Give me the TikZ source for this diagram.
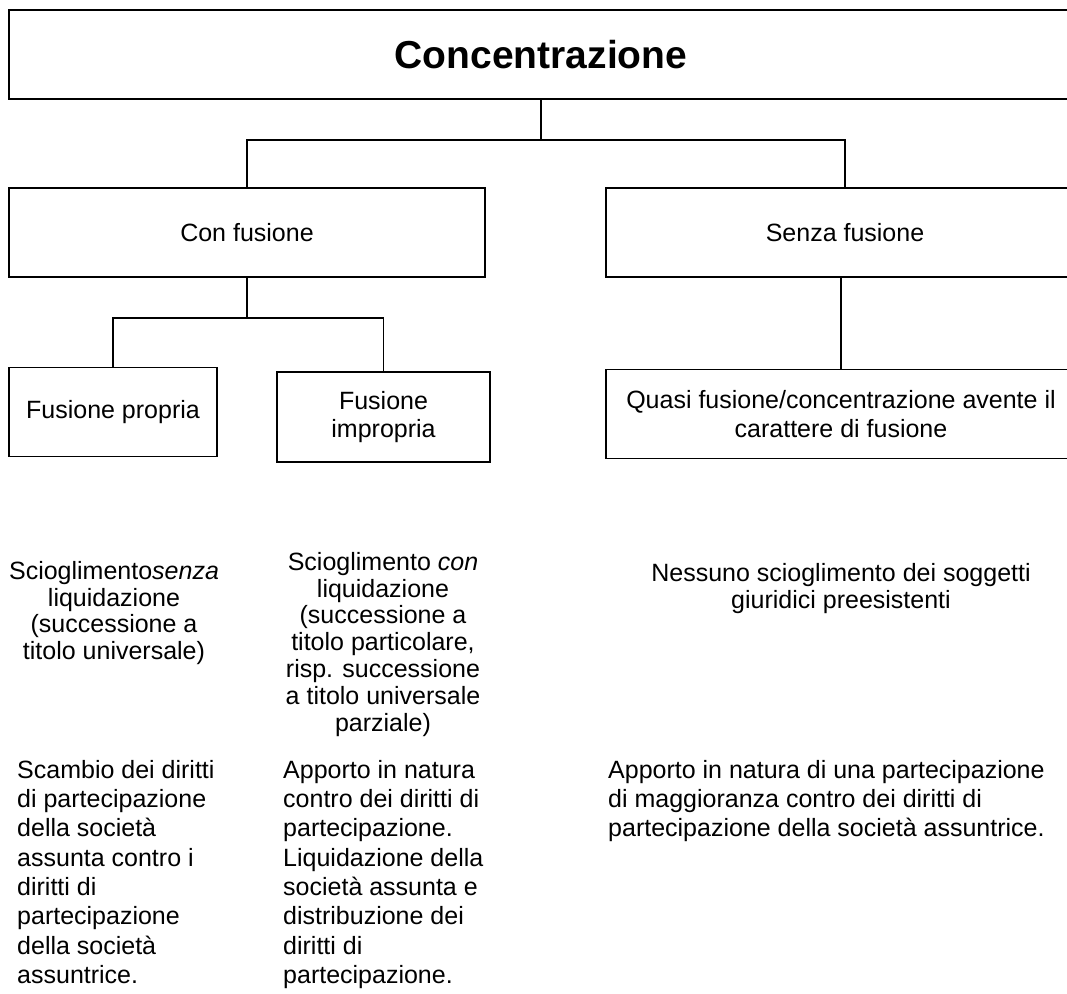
\documentclass[tikz,border=0pt]{standalone}
\usepackage{fontspec}
\setmainfont{Liberation Sans}
\usepackage{tikz}
\usetikzlibrary{positioning}

\tikzset{
	box/.style={draw, line width=1.5pt, inner sep=0pt, align=center},
	link/.style={line width=1.1pt},
	txtc/.style={inner sep=0pt, anchor=north, align=center, font=\fontsize{25}{26.8}\selectfont},
	txtl/.style={inner sep=0pt, anchor=north west, align=left, font=\fontsize{25}{29.3}\selectfont},
}

\begin{document}
\begin{tikzpicture}[x=1pt, y=-1pt, font=\fontsize{25}{28.5}\selectfont]
		
		% page frame (boxes on the right run off the page)
		\useasboundingbox (0,0) rectangle (1067,993);
		\clip (0,0) rectangle (1067,993);
		
		% top level
		\node[box, minimum width=1064pt, minimum height=89pt, font=\fontsize{39}{44}\selectfont\bfseries] (conc) at (541,54.5) {Concentrazione};
		
		% second level
		\node[box, minimum width=476pt, minimum height=89pt] (confus) at (247,232.5) {Con fusione};
		\node[box, minimum width=478pt, minimum height=89pt] (senzafus) at (845,232.5) {Senza fusione};
		
		% third level
		\node[box, minimum width=208pt, minimum height=89pt] (propria) at (113,412) {Fusione propria};
		\node[box, minimum width=213pt, minimum height=90pt] (impropria) at (383.5,417) {Fusione\\impropria};
		\node[box, minimum width=470pt, minimum height=89pt] (quasi) at (841,414) {Quasi fusione/concentrazione avente il\\carattere di fusione};
		
		% tree connectors
		\coordinate (j0) at (541,140);
		\coordinate (j1) at (247,318);
		\draw[link] (conc.south) -- (j0);
		\draw[link] (confus.north) |- (j0) -| (senzafus.north);
		\draw[link] (confus.south) -- (j1);
		\draw[link] (propria.north) |- (j1) -| (impropria.north);
		\draw[link] (senzafus.south -| quasi.north) -- (quasi.north);
		
		% effects on the legal entities
		\node[txtc] (scioglA) at (114,561) {Scioglimento\textit{senza}\\liquidazione\\(successione a\\titolo universale)};
		\node[txtc] (scioglB) at (383,552) {Scioglimento \textit{con}\\liquidazione\\(successione a\\titolo particolare,\\risp. successione\\a titolo universale\\parziale)};
		\node[txtc] (scioglC) at (841,563) {Nessuno scioglimento dei soggetti\\giuridici preesistenti};
		
		% how the shares are exchanged
		\node[txtl] (apportoA) at (17,760) {Scambio dei diritti\\di partecipazione\\della società\\assunta contro i\\diritti di\\partecipazione\\della società\\assuntrice.};
		\node[txtl] (apportoB) at (283,760) {Apporto in natura\\contro dei diritti di\\partecipazione.\\Liquidazione della\\società assunta e\\distribuzione dei\\diritti di\\partecipazione.};
		\node[txtl] (apportoC) at (608,760) {Apporto in natura di una partecipazione\\di maggioranza contro dei diritti di\\partecipazione della società assuntrice.};
		
	\end{tikzpicture}
\end{document}
